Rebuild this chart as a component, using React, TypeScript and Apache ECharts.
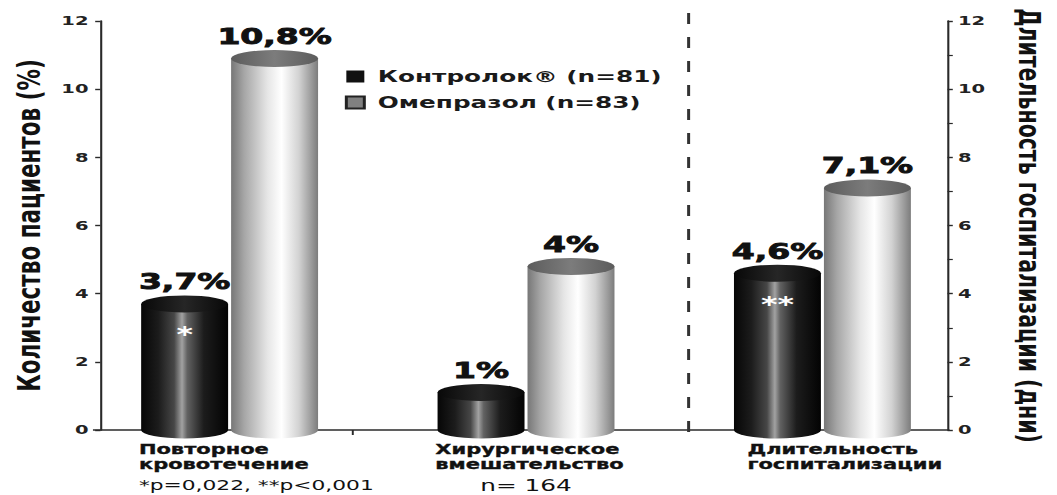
import React, { useEffect, useRef } from "react";
import * as echarts from "echarts";

// ---------- data ----------
const categories = ["Повторное\nкровотечение", "Хирургическое\nвмешательство", "Длительность\nгоспитализации"];
const categoryNotes = ["*p=0,022, **p<0,001", "n= 164", ""];
const seriesNames = ["Контролок® (n=81)", "Омепразол (n=83)"];
const controlocValues = [3.7, 1.1, 4.6];
const omeprazoleValues = [10.9, 4.8, 7.1];
const controlocLabels = ["3,7%", "1%", "4,6%"];
const omeprazoleLabels = ["10,8%", "4%", "7,1%"];
const controlocMarks = ["*", "", "**"];
const omeprazoleMarks = ["", "", ""];
const leftAxisTitle = "Количество пациентов (%)";
const rightAxisTitle = "Длительность госпитализации (дни)";
const AXIS_MIN = 0;
const AXIS_MAX = 12;
const AXIS_STEP = 2;

// ---------- layout (chart drawn at narrower width, then stretched horizontally) ----------
const W = 705;
const H = 495;
const SX = 1057 / W;
const FONT = "'DejaVu Sans', sans-serif";
const GRID_LEFT = 49.3;
const GRID_RIGHT_X = 648.7;
const GRID_TOP = 21;
const GRID_BOTTOM = 65;
const LEFT_AXIS_X = 62;
const RIGHT_AXIS_X = 633.3;
const BASE_Y = H - GRID_BOTTOM;
const BAR_W = 58;
const BAR_SHIFT = 30;
const RY = 8.5;

const blackBody: [number, string][] = [
  [0, "#060606"], [0.2, "#1c1c1c"], [0.38, "#474747"], [0.47, "#a2a2a2"],
  [0.53, "#626262"], [0.72, "#1c1c1c"], [1, "#030303"],
];
const blackCap: [number, string][] = [[0, "#080808"], [0.5, "#262626"], [1, "#080808"]];
const grayBody: [number, string][] = [
  [0, "#777777"], [0.15, "#a6a6a6"], [0.42, "#e6e6e6"], [0.58, "#ffffff"],
  [0.78, "#d2d2d2"], [0.92, "#9c9c9c"], [1, "#7c7c7c"],
];
const grayCap: [number, string][] = [[0, "#5c5c5c"], [0.5, "#7c7c7c"], [1, "#5c5c5c"]];

function grad(stops: [number, string][]) {
  return new echarts.graphic.LinearGradient(
    0, 0, 1, 0,
    stops.map(([offset, color]) => ({ offset, color }))
  );
}

function cylinderRenderer(
  shiftSign: number,
  labels: string[],
  marks: string[],
  body: [number, string][],
  cap: [number, string][]
) {
  return (params: any, api: any) => {
    const i = params.dataIndex;
    const top = api.coord([api.value(0), api.value(1)]);
    const base = api.coord([api.value(0), 0]);
    const cx = top[0] + shiftSign * BAR_SHIFT;
    const rx = BAR_W / 2;
    const x0 = cx - rx;
    const x1 = cx + rx;
    const ty = top[1];
    const by = base[1];
    const bodyPath = `M${x0},${ty} L${x0},${by} A${rx},${RY} 0 0 0 ${x1},${by} L${x1},${ty} Z`;
    const capPath = `M${x0},${ty} A${rx},${RY} 0 0 0 ${x1},${ty} A${rx},${RY} 0 0 0 ${x0},${ty} Z`;
    const children: any[] = [
      { type: "path", shape: { pathData: bodyPath }, style: { fill: grad(body) } },
      { type: "path", shape: { pathData: capPath }, style: { fill: grad(cap) } },
      {
        type: "text",
        x: cx,
        y: ty - 22,
        style: {
          text: labels[i],
          fill: "#111",
          stroke: "#111",
          lineWidth: 0.9,
          fontFamily: FONT,
          fontWeight: "bold",
          fontSize: 22,
          align: "center",
          verticalAlign: "middle",
        },
      },
    ];
    if (marks[i]) {
      children.push({
        type: "text",
        x: cx,
        y: ty + 31,
        style: {
          text: marks[i],
          fill: "#ffffff",
          fontFamily: FONT,
          fontWeight: "bold",
          fontSize: 21,
          align: "center",
          verticalAlign: "middle",
        },
      });
    }
    return { type: "group", children };
  };
}

export default function App() {
  const ref = useRef<HTMLDivElement>(null);

  useEffect(() => {
    if (!ref.current) return;
    document.body.style.overflow = "hidden";
    const chart = echarts.init(ref.current, undefined, { renderer: "svg" });

    const axisCommon = {
      type: "value" as const,
      min: AXIS_MIN,
      max: AXIS_MAX,
      interval: AXIS_STEP,
      splitLine: { show: false },
      axisLine: { show: true, lineStyle: { color: "#2a2a2a", width: 1.4 } },
      axisTick: { show: true, length: 3.5, lineStyle: { color: "#2a2a2a", width: 1.4 } },
      nameLocation: "middle" as const,
    };

    const boldRich = {
      fontFamily: FONT, fontWeight: "bold", fontSize: 14, lineHeight: 15,
      align: "left", color: "#111", textBorderColor: "#111", textBorderWidth: 0.35,
    };

    chart.setOption({
      animation: false,
      backgroundColor: "#ffffff",
      grid: {
        left: GRID_LEFT,
        right: W - GRID_RIGHT_X,
        top: GRID_TOP,
        bottom: GRID_BOTTOM,
        containLabel: false,
      },
      legend: {
        orient: "vertical",
        left: 225,
        top: 63,
        itemWidth: 12,
        itemHeight: 12,
        itemGap: 9,
        icon: "rect",
        data: seriesNames,
        textStyle: {
          fontFamily: FONT,
          fontWeight: "bold",
          fontSize: 16.5,
          color: "#1a1a1a",
          padding: [0, 0, 0, 4],
        },
      },
      xAxis: {
        type: "category",
        data: categories,
        boundaryGap: true,
        axisLine: { show: false },
        axisTick: { show: false },
        axisLabel: {
          interval: 0,
          margin: 11,
          formatter: (value: string, index: number) => {
            const lines = value.split("\n");
            const st = index === 2 ? "c3" : "c";
            let s = lines.map((l) => `{${st}|${l}}`).join("\n");
            const note = categoryNotes[index];
            if (note) s += `\n{${index === 0 ? "p" : "n"}|${note}}`;
            return s;
          },
          rich: {
            c: { ...boldRich, width: 121 },
            c3: { ...boldRich, width: 100 },
            p: { fontFamily: FONT, fontSize: 14.5, lineHeight: 28, width: 121, align: "left", color: "#111" },
            n: { fontFamily: FONT, fontSize: 16.5, lineHeight: 28, width: 121, align: "center", color: "#111" },
          },
        },
      },
      yAxis: [
        {
          ...axisCommon,
          position: "left",
          offset: -(LEFT_AXIS_X - GRID_LEFT),
          axisLabel: { fontFamily: FONT, fontWeight: "bold", fontSize: 13, color: "#222", margin: 8 },
          name: leftAxisTitle,
          nameRotate: 90,
          nameGap: 32,
          nameTextStyle: { fontFamily: FONT, fontWeight: "bold", fontSize: 21.5, color: "#111" },
        },
        {
          ...axisCommon,
          position: "right",
          offset: -(GRID_RIGHT_X - RIGHT_AXIS_X),
          minorTick: { show: true, splitNumber: 2, length: 3.5, lineStyle: { color: "#2a2a2a", width: 1.2 } },
          axisLabel: { fontFamily: FONT, fontWeight: "bold", fontSize: 13, color: "#222", margin: 7 },
          name: rightAxisTitle,
          nameRotate: -90,
          nameGap: 44,
          nameTextStyle: { fontFamily: FONT, fontWeight: "bold", fontSize: 20.5, color: "#111" },
        },
      ],
      graphic: [
        {
          type: "line",
          shape: { x1: LEFT_AXIS_X, y1: BASE_Y, x2: RIGHT_AXIS_X, y2: BASE_Y },
          style: { stroke: "#2a2a2a", lineWidth: 1.5 },
          z: 0,
        },
        {
          type: "line",
          shape: { x1: 235.3, y1: BASE_Y, x2: 235.3, y2: BASE_Y + 5 },
          style: { stroke: "#2a2a2a", lineWidth: 1.3 },
          z: 0,
        },
        {
          type: "line",
          shape: { x1: 459.3, y1: 13, x2: 459.3, y2: 441 },
          style: { stroke: "#333", lineWidth: 2, lineDash: [11, 13] },
          z: 0,
        },
      ],
      series: [
        {
          name: seriesNames[0],
          type: "custom",
          xAxisIndex: 0,
          yAxisIndex: 0,
          clip: false,
          itemStyle: { color: "#111111" },
          encode: { x: 0, y: 1 },
          data: controlocValues.map((v, i) => [i, v]),
          renderItem: cylinderRenderer(-1, controlocLabels, controlocMarks, blackBody, blackCap),
          z: 5,
        },
        {
          name: seriesNames[1],
          type: "custom",
          xAxisIndex: 0,
          yAxisIndex: 0,
          clip: false,
          itemStyle: { color: "#808080", borderColor: "#222", borderWidth: 1 },
          encode: { x: 0, y: 1 },
          data: omeprazoleValues.map((v, i) => [i, v]),
          renderItem: cylinderRenderer(1, omeprazoleLabels, omeprazoleMarks, grayBody, grayCap),
          z: 5,
        },
      ],
    });

    return () => {
      chart.dispose();
    };
  }, []);

  return (
    <div
      ref={ref}
      style={{
        position: "absolute",
        left: 0,
        top: 0,
        width: W,
        height: H,
        transform: `scaleX(${SX})`,
        transformOrigin: "0 0",
      }}
    />
  );
}
